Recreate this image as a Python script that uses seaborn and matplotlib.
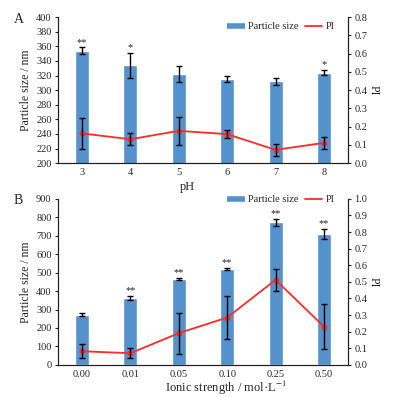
import numpy as np
import pandas as pd
import matplotlib
matplotlib.use('Agg')
import matplotlib.pyplot as plt
import seaborn as sns
from matplotlib.lines import Line2D

# Panel A : pH
ph_labels = ['3', '4', '5', '6', '7', '8']
ph_size = [354, 334, 322, 315, 312, 324]
ph_size_err = [4.5, 17, 11.5, 4.5, 4.5, 3.2]
ph_pi = [0.163, 0.131, 0.177, 0.159, 0.073, 0.111]
ph_pi_err = [0.084, 0.032, 0.077, 0.023, 0.034, 0.035]
ph_stars = ['**', '*', '', '', '', '*']

# Panel B : force ionique
ion_labels = ['0.00', '0.01', '0.05', '0.10', '0.25', '0.50']
ion_size = [271, 361, 465, 522, 772, 710]
ion_size_err = [8, 12, 6, 5, 17, 26]
ion_pi = [0.082, 0.070, 0.191, 0.285, 0.512, 0.231]
ion_pi_err = [0.042, 0.030, 0.124, 0.127, 0.067, 0.133]
ion_stars = ['', '**', '**', '**', '**', '**']

sns.set_style('ticks')
plt.rcParams['font.family'] = ['Liberation Serif', 'DejaVu Serif']
plt.rcParams['mathtext.fontset'] = 'stix'

bar_color = '#5592CB'
line_color = '#FF2A2A'

fig = plt.figure(figsize=(3.96, 3.97), dpi=100)


def draw_panel(rect, labels, size, size_err, pi, pi_err, stars,
               ylim, ystep, y2lim, y2step, xlabel, xlab_pos, letter,
               star_off, leg_y):
    ax = fig.add_axes(rect)
    df = pd.DataFrame({'cat': labels, 'size': size})
    sns.barplot(x='cat', y='size', data=df, color=bar_color, width=0.29,
                saturation=1, ax=ax, errorbar=None)
    pos = np.arange(len(labels))
    ax.errorbar(pos, size, yerr=size_err, fmt='none', ecolor='black',
                elinewidth=1, capsize=2.5, capthick=1, zorder=5)
    for i, s in enumerate(stars):
        if s:
            ax.text(i, size[i] + size_err[i] + star_off, s, ha='center',
                    va='bottom', fontsize=7.5)
    ax.set_ylim(*ylim)
    ax.set_yticks(np.arange(ylim[0], ylim[1] + 1, ystep))
    ax.set_xlim(-0.5, len(labels) - 0.5)
    ax.set_ylabel('Particle size / nm', fontsize=8.5, labelpad=3)
    ax.set_xlabel(xlabel, fontsize=9)
    ax.xaxis.set_label_coords(*xlab_pos)
    ax.xaxis.label.set_va('center')
    ax.tick_params(axis='y', labelsize=7.5, length=2.5, width=0.8, pad=2)
    ax.tick_params(axis='x', labelsize=7.5, length=0, pad=3.5)

    ax2 = ax.twinx()
    sns.lineplot(x=pos, y=pi, ax=ax2, color=line_color, linewidth=1.3,
                 marker='o', markersize=3.5, markeredgecolor=line_color)
    ax2.errorbar(pos, pi, yerr=pi_err, fmt='none', ecolor='black',
                 elinewidth=1, capsize=2.5, capthick=1, zorder=6)
    ax2.set_ylim(*y2lim)
    ax2.set_yticks(np.round(np.arange(y2lim[0], y2lim[1] + 1e-9, y2step), 1))
    ax2.set_yticklabels(['%.1f' % v for v in ax2.get_yticks()])
    ax2.set_ylabel('PI', fontsize=8.5, rotation=270, labelpad=9)
    ax2.tick_params(axis='y', labelsize=7.5, length=2.5, width=0.8, pad=2)

    for a in (ax, ax2):
        a.spines['top'].set_visible(False)
        for sp in ('left', 'right', 'bottom'):
            a.spines[sp].set_linewidth(0.8)
            a.spines[sp].set_color('#222222')

    handles = [Line2D([0], [0], color=bar_color, linewidth=4,
                      solid_capstyle='butt'),
               Line2D([0], [0], color=line_color, linewidth=1.3)]
    ax.legend(handles, ['Particle size', 'PI'], ncol=2, frameon=False,
              fontsize=7.5, loc='upper right', handlelength=1.7,
              columnspacing=0.6, handletextpad=0.3,
              bbox_to_anchor=(0.985, leg_y))
    fig.text(0.035, rect[1] + rect[3] - 0.005, letter, fontsize=10,
             va='center')
    return ax


draw_panel([0.146, 0.589, 0.733, 0.368], ph_labels, ph_size, ph_size_err,
           ph_pi, ph_pi_err, ph_stars, (200, 400), 20, (0, 0.8), 0.1,
           'pH', (0.445, -0.165), 'A', 1, 1.03)
draw_panel([0.146, 0.081, 0.733, 0.418], ion_labels, ion_size, ion_size_err,
           ion_pi, ion_pi_err, ion_stars, (0, 900), 100, (0, 1.0), 0.1,
           'Ionic strength / mol·L$^{-1}$', (0.58, -0.142), 'B', 5, 1.08)

fig.savefig('out.png', dpi=100)
